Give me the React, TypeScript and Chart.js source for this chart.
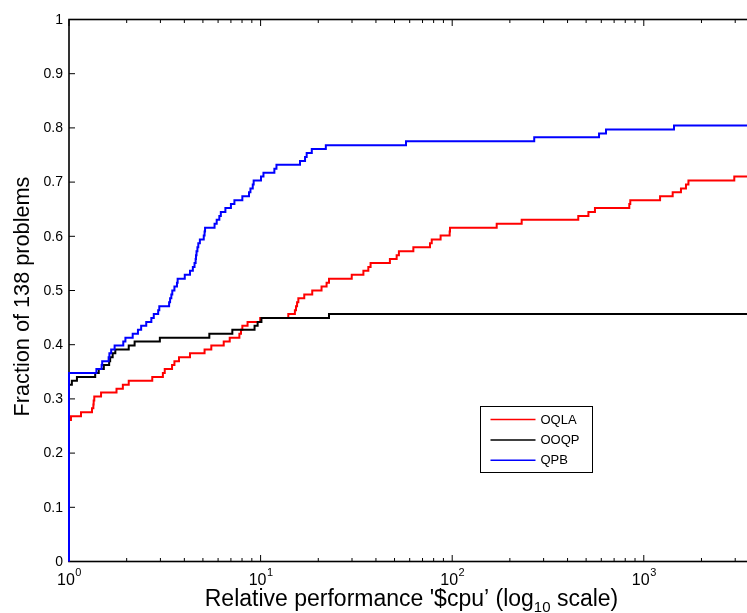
import React, { useEffect, useRef } from "react";
import { Chart, registerables } from "chart.js";

Chart.register(...registerables);

// Performance profile: fraction of the test set solved within a factor of the best CPU time.
const PROBLEMS = 138;
const X_MIN = 1;
const X_MAX = 3760;

const SERIES_NAMES = ["OQLA", "OOQP", "QPB"];
const SERIES_COLORS = ["#ff0000", "#000000", "#0000ff"];

// OQLA: ratio at which the solved count steps up, and the count reached
const oqlaRatios = [
  1, 1.024, 1.155, 1.318, 1.34, 1.345, 1.355, 1.47, 1.77, 1.91, 2.05, 2.72, 3.09, 3.16, 3.45, 3.55,
  3.75, 4.28, 5.1, 5.53, 6.42, 6.9, 7.75, 7.9, 8.03, 8.55, 9.95, 13.95, 15.1, 15.3, 15.5, 15.74,
  16.9, 18.6, 20.8, 22.1, 22.75, 29.9, 34.4, 36.5, 37.5, 47.3, 51.3, 52.7, 62.7, 76.6, 78.2, 87,
  97, 97.4, 170.7, 230.5, 455, 514, 556, 840, 850, 1216, 1415, 1563, 1660, 1710, 2967,
];
const oqlaSolved = [
  36, 37, 38, 39, 40, 41, 42, 43, 44, 45, 46, 47, 48, 49, 50, 51, 52, 53, 54, 55, 56, 57, 58, 59,
  60, 61, 62, 63, 64, 65, 66, 67, 68, 69, 70, 71, 72, 73, 74, 75, 76, 77, 78, 79, 80, 81, 82, 83,
  84, 85, 86, 87, 88, 89, 90, 91, 92, 93, 94, 95, 96, 97, 98,
];

// OOQP
const ooqpRatios = [
  1, 1.035, 1.1, 1.37, 1.43, 1.52, 1.62, 1.64, 1.69, 1.745, 2.05, 2.2, 2.98, 5.4, 7.12, 9.3, 9.65,
  10.1, 22.75,
];
const ooqpSolved = [45, 46, 47, 48, 49, 50, 51, 52, 53, 54, 55, 56, 57, 58, 59, 60, 61, 62, 63];

// QPB
const qpbRatios = [
  1, 1.39, 1.48, 1.49, 1.61, 1.625, 1.66, 1.73, 1.92, 1.97, 2.15, 2.29, 2.38, 2.53, 2.69, 2.77,
  2.92, 2.96, 3.33, 3.37, 3.42, 3.46, 3.55, 3.66, 3.69, 4.02, 4.28, 4.43, 4.52, 4.58, 4.6, 4.63,
  4.68, 4.73, 4.82, 5.05, 5.1, 5.13, 5.75, 5.9, 6.09, 6.2, 6.55, 7.0, 7.3, 8.03, 8.7, 8.85, 9.1,
  9.2, 10.05, 10.35, 11.8, 12.1, 16.06, 17.06, 17.4, 18.5, 21.9, 57.4, 268, 584, 635, 1438,
];
const qpbSolved = [
  48, 49, 50, 51, 52, 53, 54, 55, 56, 57, 58, 59, 60, 61, 62, 63, 64, 65, 66, 67, 68, 69, 70, 71,
  72, 73, 74, 75, 76, 77, 78, 79, 80, 81, 82, 83, 84, 85, 86, 87, 88, 89, 90, 91, 92, 93, 94, 95,
  96, 97, 98, 99, 100, 101, 102, 103, 104, 105, 106, 107, 108, 109, 110, 111,
];

const Y_TICKS = [0, 0.1, 0.2, 0.3, 0.4, 0.5, 0.6, 0.7, 0.8, 0.9, 1];
const Y_TICK_LABELS = ["0", "0.1", "0.2", "0.3", "0.4", "0.5", "0.6", "0.7", "0.8", "0.9", "1"];
const X_DECADES = [0, 1, 2, 3];
const X_TICK_BASE = "10";
const Y_TITLE = "Fraction of 138 problems";
const X_TITLE_MAIN = "Relative performance '$cpu\u2019 (log";
const X_TITLE_SUB = "10";
const X_TITLE_END = " scale)";

const FONT = "'Liberation Sans', Arial, Helvetica, sans-serif";

function profile(ratios: number[], solved: number[]) {
  const pts = [{ x: X_MIN, y: 0 }];
  ratios.forEach((r, i) => pts.push({ x: r, y: solved[i] / PROBLEMS }));
  pts.push({ x: X_MAX, y: solved[solved.length - 1] / PROBLEMS });
  return pts;
}

const axesPlugin = {
  id: "boxedAxes",
  beforeDatasetsDraw(chart: any) {
    const { ctx, chartArea: a, scales } = chart;
    const xs = scales.x;
    const ys = scales.y;
    ctx.save();
    ctx.strokeStyle = "#000";
    ctx.fillStyle = "#000";

    // inward tick marks
    ctx.lineWidth = 1;
    ctx.beginPath();
    for (const v of Y_TICKS) {
      const y = ys.getPixelForValue(v);
      ctx.moveTo(a.left, y);
      ctx.lineTo(a.left + 6, y);
      ctx.moveTo(a.right, y);
      ctx.lineTo(a.right - 6, y);
    }
    for (const d of X_DECADES) {
      for (let m = 1; m <= 9; m++) {
        const v = m * Math.pow(10, d);
        if (v > X_MAX) continue;
        const x = xs.getPixelForValue(v);
        const len = m === 1 ? 6.5 : 3.5;
        ctx.moveTo(x, a.bottom);
        ctx.lineTo(x, a.bottom - len);
        ctx.moveTo(x, a.top);
        ctx.lineTo(x, a.top + len);
      }
    }
    ctx.stroke();

    // box
    ctx.lineWidth = 1.6;
    ctx.strokeRect(a.left, a.top, a.right - a.left, a.bottom - a.top);

    // y tick labels
    ctx.font = `14px ${FONT}`;
    ctx.textAlign = "right";
    ctx.textBaseline = "middle";
    Y_TICKS.forEach((v, i) => {
      ctx.fillText(Y_TICK_LABELS[i], a.left - 6, ys.getPixelForValue(v) + 0.5);
    });

    // x tick labels, 10 with a raised exponent
    ctx.textAlign = "left";
    ctx.textBaseline = "alphabetic";
    for (const d of X_DECADES) {
      const x = xs.getPixelForValue(Math.pow(10, d));
      ctx.font = `16px ${FONT}`;
      const wb = ctx.measureText(X_TICK_BASE).width;
      ctx.font = `11px ${FONT}`;
      const we = ctx.measureText(String(d)).width;
      const x0 = x - (wb + we) / 2;
      ctx.font = `16px ${FONT}`;
      ctx.fillText(X_TICK_BASE, x0, a.bottom + 23.5);
      ctx.font = `11px ${FONT}`;
      ctx.fillText(String(d), x0 + wb + 0.5, a.bottom + 14);
    }

    // x axis title with subscript
    const mainFont = `23px ${FONT}`;
    const subFont = `15px ${FONT}`;
    ctx.font = mainFont;
    const w1 = ctx.measureText(X_TITLE_MAIN).width;
    const w3 = ctx.measureText(X_TITLE_END).width;
    ctx.font = subFont;
    const w2 = ctx.measureText(X_TITLE_SUB).width;
    let tx = (a.left + a.right) / 2 - (w1 + w2 + w3) / 2;
    ctx.font = mainFont;
    ctx.fillText(X_TITLE_MAIN, tx, a.bottom + 44);
    tx += w1;
    ctx.font = subFont;
    ctx.fillText(X_TITLE_SUB, tx, a.bottom + 50);
    tx += w2;
    ctx.font = mainFont;
    ctx.fillText(X_TITLE_END, tx, a.bottom + 44);

    // y axis title
    ctx.save();
    ctx.translate(28.5, (a.top + a.bottom) / 2 + 6);
    ctx.rotate(-Math.PI / 2);
    ctx.textAlign = "center";
    ctx.font = `21.7px ${FONT}`;
    ctx.fillText(Y_TITLE, 0, 0);
    ctx.restore();

    ctx.restore();
  },
  afterDatasetsDraw(chart: any) {
    const { ctx } = chart;
    const bx = 480.5;
    const by = 406.5;
    const bw = 112;
    const bh = 66;
    ctx.save();
    ctx.fillStyle = "#fff";
    ctx.fillRect(bx, by, bw, bh);
    ctx.strokeStyle = "#000";
    ctx.lineWidth = 1;
    ctx.strokeRect(bx, by, bw, bh);
    ctx.font = `13px ${FONT}`;
    ctx.textAlign = "left";
    ctx.textBaseline = "middle";
    SERIES_NAMES.forEach((name, i) => {
      const y = by + 13 + i * 20.4;
      ctx.strokeStyle = SERIES_COLORS[i];
      ctx.lineWidth = 1.5;
      ctx.beginPath();
      ctx.moveTo(bx + 10, y);
      ctx.lineTo(bx + 55, y);
      ctx.stroke();
      ctx.fillStyle = "#000";
      ctx.fillText(name, bx + 60, y + 0.5);
    });
    ctx.restore();
  },
};

export default function App() {
  const ref = useRef<HTMLCanvasElement | null>(null);

  useEffect(() => {
    if (!ref.current) return;
    const series = [
      { ratios: qpbRatios, solved: qpbSolved, idx: 2 },
      { ratios: ooqpRatios, solved: ooqpSolved, idx: 1 },
      { ratios: oqlaRatios, solved: oqlaSolved, idx: 0 },
    ];
    const chart = new Chart(ref.current, {
      type: "line",
      data: {
        datasets: series.map((s) => ({
          label: SERIES_NAMES[s.idx],
          data: profile(s.ratios, s.solved),
          borderColor: SERIES_COLORS[s.idx],
          backgroundColor: SERIES_COLORS[s.idx],
          borderWidth: 2,
          stepped: "before" as const,
          fill: false,
          clip: false as any,
          pointRadius: 0,
          tension: 0,
        })),
      },
      options: {
        responsive: false,
        animation: false,
        devicePixelRatio: 1,
        layout: { padding: { left: 69, top: 19.5, right: 6, bottom: 51.5 } },
        plugins: { legend: { display: false }, tooltip: { enabled: false } },
        events: [],
        scales: {
          x: { type: "logarithmic", min: X_MIN, max: X_MAX, display: false },
          y: { type: "linear", min: 0, max: 1, display: false },
        },
      },
      plugins: [axesPlugin],
    });
    return () => chart.destroy();
  }, []);

  return (
    <div
      style={{
        position: "absolute",
        left: 0,
        top: 0,
        width: 747,
        height: 613,
        overflow: "hidden",
        background: "#fff",
      }}
    >
      <canvas ref={ref} width={760} height={613} style={{ display: "block" }} />
    </div>
  );
}
